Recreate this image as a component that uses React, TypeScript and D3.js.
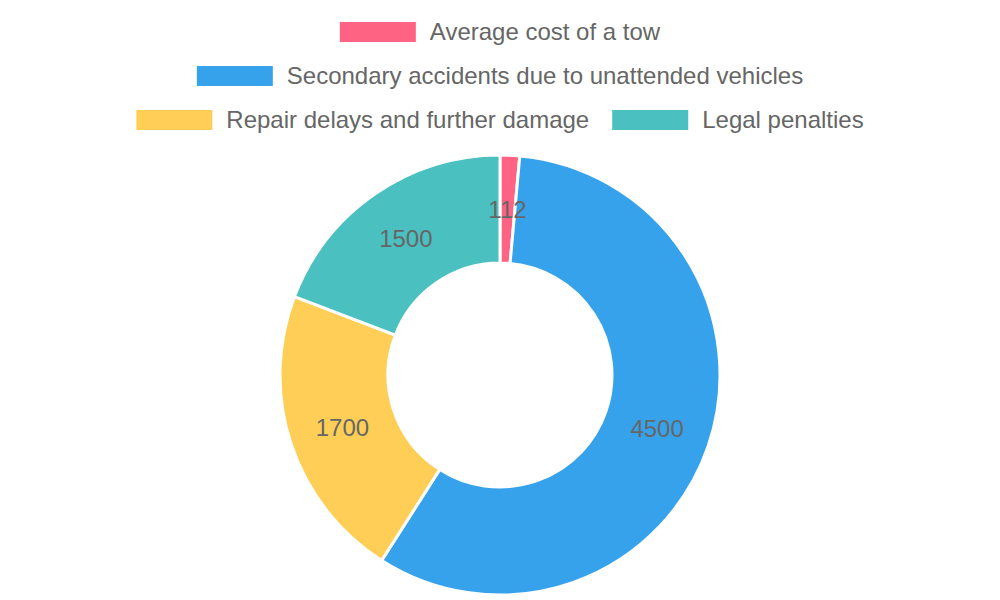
import { useMemo } from "react";
import * as d3 from "d3";

const WIDTH = 1000;
const HEIGHT = 600;
const CENTER = { x: 500, y: 375 };
const OUTER_RADIUS = 220;
const INNER_RADIUS = 112;
const FONT = "'Liberation Sans', Arial, Helvetica, sans-serif";
const FONT_SIZE = 24;
const TEXT_COLOR = "#666";

const labels = [
  "Average cost of a tow",
  "Secondary accidents due to unattended vehicles",
  "Repair delays and further damage",
  "Legal penalties",
];
const values = [112, 4500, 1700, 1500];
const colors = ["#FF6384", "#36A2EB", "#FFCE56", "#4BC0C0"];

// legend rows as they wrap in the reference
const legendRows = [[0], [1], [2, 3]];

const BOX_W = 76;
const BOX_H = 20;
const BOX_GAP = 14;
const ITEM_GAP = 23;
const ROW_Y0 = 32;
const ROW_STEP = 44;

const measure = (() => {
  let ctx: CanvasRenderingContext2D | null = null;
  return (text: string) => {
    if (!ctx) {
      ctx = document.createElement("canvas").getContext("2d");
    }
    if (!ctx) return text.length * FONT_SIZE * 0.5;
    ctx.font = `${FONT_SIZE}px ${FONT}`;
    return ctx.measureText(text).width;
  };
})();

type Slice = d3.PieArcDatum<number>;

export default function App() {
  const arcs = useMemo(
    () =>
      d3
        .pie<number>()
        .sort(null)
        .value((d) => d)(values),
    []
  );

  const arcGen = d3
    .arc<Slice>()
    .innerRadius(INNER_RADIUS)
    .outerRadius(OUTER_RADIUS);

  const labelArc = d3
    .arc<Slice>()
    .innerRadius((INNER_RADIUS + OUTER_RADIUS) / 2)
    .outerRadius((INNER_RADIUS + OUTER_RADIUS) / 2);

  const legendItems = legendRows.flatMap((row, rowIndex) => {
    const widths = row.map((i) => BOX_W + BOX_GAP + measure(labels[i]));
    const total = d3.sum(widths) + ITEM_GAP * (row.length - 1);
    let x = (WIDTH - total) / 2;
    return row.map((i, k) => {
      const item = { index: i, x, y: ROW_Y0 + rowIndex * ROW_STEP };
      x += widths[k] + ITEM_GAP;
      return item;
    });
  });

  return (
    <svg
      width={WIDTH}
      height={HEIGHT}
      style={{ position: "absolute", left: 0, top: 0, display: "block" }}
      fontFamily={FONT}
    >
      <rect width={WIDTH} height={HEIGHT} fill="white" />

      {/* Legend */}
      {legendItems.map((item) => (
        <g key={item.index}>
          <rect
            x={item.x}
            y={item.y - BOX_H / 2}
            width={BOX_W}
            height={BOX_H}
            fill={colors[item.index]}
          />
          <text
            x={item.x + BOX_W + BOX_GAP}
            y={item.y}
            dy="0.35em"
            fontSize={FONT_SIZE}
            fill={TEXT_COLOR}
          >
            {labels[item.index]}
          </text>
        </g>
      ))}

      {/* Doughnut */}
      <g transform={`translate(${CENTER.x},${CENTER.y})`}>
        {arcs.map((a, i) => (
          <path
            key={i}
            d={arcGen(a) ?? ""}
            fill={colors[i]}
            stroke="white"
            strokeWidth={3}
            strokeLinejoin="round"
          />
        ))}
        {arcs.map((a, i) => {
          const [x, y] = labelArc.centroid(a);
          return (
            <text
              key={i}
              x={x}
              y={y}
              dy="0.35em"
              textAnchor="middle"
              fontSize={FONT_SIZE}
              fill={TEXT_COLOR}
            >
              {values[i]}
            </text>
          );
        })}
      </g>
    </svg>
  );
}
